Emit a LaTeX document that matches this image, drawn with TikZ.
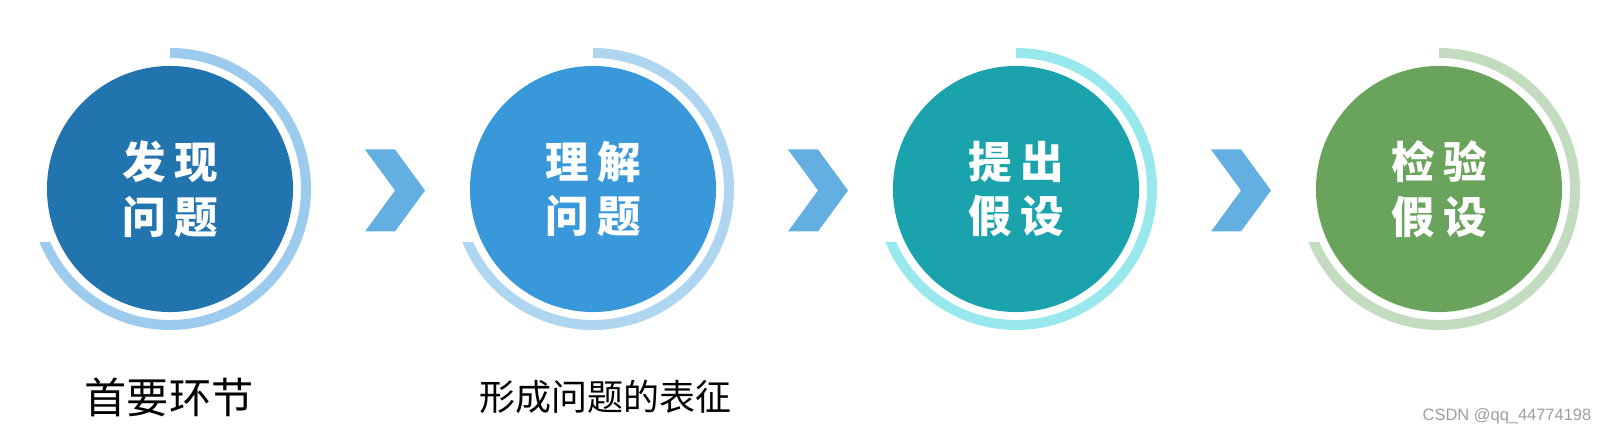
\documentclass[tikz,border=0pt]{standalone}
\usepackage{fontspec}
\newfontfamily\cjk{Noto Sans CJK SC}
\newfontfamily\wmfont{Liberation Sans}
\usetikzlibrary{calc}

\definecolor{stepA}{HTML}{2174AD}
\definecolor{ringA}{HTML}{9DCBEE}
\definecolor{stepB}{HTML}{3898DA}
\definecolor{ringB}{HTML}{AED6F1}
\definecolor{stepC}{HTML}{1BA3AD}
\definecolor{ringC}{HTML}{98E8EE}
\definecolor{stepD}{HTML}{6AA35C}
\definecolor{ringD}{HTML}{C3DCC0}
\definecolor{chev}{HTML}{63AFE1}

\tikzset{
  stepnode/.style={circle, minimum size=6.15cm, inner sep=0pt, text=white, align=center,
    font=\cjk\bfseries\fontsize{31}{39}\selectfont},
  note/.style={font=\cjk\fontsize{#1}{#1}\selectfont}
}

% chevron, its notch at #1
\newcommand{\chevron}[1]{\fill[chev] (#1) -- ++(-30,41) -- ++(30,0) -- ++(30,-41) -- ++(-30,-41) -- ++(-30,0) -- cycle;}
% open ring round node #1, cut flat at its lower left end
\newcommand{\ringarc}[2]{\fill[#2] (#1.center) ++(90:141) arc[start angle=90, end angle=-157.92, radius=141]
  -- ($(#1.center)+(-119.8,-53)$) arc[start angle=-156.13, end angle=90, radius=131] -- cycle;}

\begin{document}
\begin{tikzpicture}[x=0.025cm,y=0.025cm]
\useasboundingbox (0,0) rectangle (1607,433);
%\draw[help lines] (0,0) grid[step=50] (1607,433);
\node[stepnode, fill=stepA] (c1) at (170,244) {发\hspace{6pt}现\\问\hspace{6pt}题};
\ringarc{c1}{ringA}
\node[stepnode, fill=stepB] (c2) at (593,244) {理\hspace{6pt}解\\问\hspace{6pt}题};
\ringarc{c2}{ringB}
\node[stepnode, fill=stepC] (c3) at (1016,244) {提\hspace{6pt}出\\假\hspace{6pt}设};
\ringarc{c3}{ringC}
\node[stepnode, fill=stepD] (c4) at (1439,244) {检\hspace{6pt}验\\假\hspace{6pt}设};
\ringarc{c4}{ringD}

\coordinate (g1) at ($(c1)!0.5!(c2)+(13.5,-1.5)$);
\coordinate (g2) at ($(c2)!0.5!(c3)+(13.5,-1.5)$);
\coordinate (g3) at ($(c3)!0.5!(c4)+(13.5,-1.5)$);
\chevron{g1}
\chevron{g2}
\chevron{g3}

\node[note=30] (n1) at (169,36) {首要环节};
\node[note=25.6] (n2) at (605,36) {形成问题的表征};
\node[font=\wmfont\fontsize{11.7}{12}\selectfont, text=black!38] (wm) at (1507,17) {CSDN @qq\_44774198};
\end{tikzpicture}
\end{document}
